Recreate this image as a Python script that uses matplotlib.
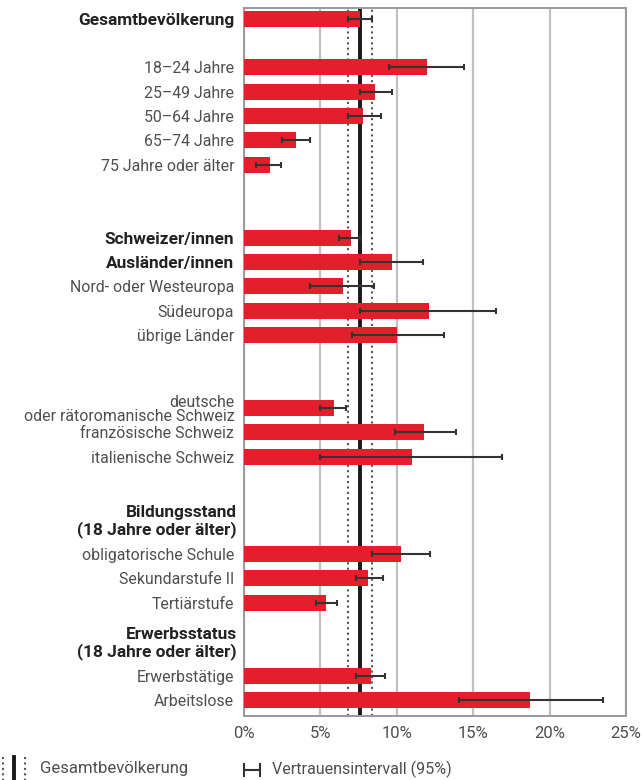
import matplotlib.pyplot as plt
from matplotlib.lines import Line2D
from matplotlib.ticker import FuncFormatter

plt.rcParams['font.family'] = ['Roboto', 'DejaVu Sans']

# groups of rows, top to bottom
labels = [
    "Gesamtbevölkerung",
    "18–24 Jahre", "25–49 Jahre", "50–64 Jahre", "65–74 Jahre", "75 Jahre oder älter",
    "Schweizer/innen", "Ausländer/innen", "Nord- oder Westeuropa", "Südeuropa", "übrige Länder",
    "deutsche\noder rätoromanische Schweiz", "französische Schweiz", "italienische Schweiz",
    "obligatorische Schule", "Sekundarstufe II", "Tertiärstufe",
    "Erwerbstätige", "Arbeitslose",
]
bold_labels = ["Gesamtbevölkerung", "Schweizer/innen", "Ausländer/innen"]
group_sizes = [1, 5, 5, 3, 3, 2]
headers = {4: "Bildungsstand\n(18 Jahre oder älter)", 5: "Erwerbsstatus\n(18 Jahre oder älter)"}

values = [7.6, 12.0, 8.6, 7.8, 3.4, 1.7,
          7.0, 9.7, 6.5, 12.1, 10.0,
          5.9, 11.8, 11.0,
          10.3, 8.1, 5.4,
          8.3, 18.7]
ci_low = [6.8, 9.5, 7.6, 6.8, 2.5, 0.8,
          6.2, 7.6, 4.3, 7.6, 7.1,
          5.0, 9.9, 5.0,
          8.4, 7.3, 4.7,
          7.3, 14.1]
ci_high = [8.4, 14.4, 9.7, 9.0, 4.3, 2.4,
           7.6, 11.7, 8.5, 16.5, 13.1,
           6.7, 13.9, 16.9,
           12.2, 9.1, 6.1,
           9.2, 23.5]

total = 7.6
total_low = 6.8
total_high = 8.4

xticks = [0, 5, 10, 15, 20, 25]

# row positions with empty rows between groups
gaps = [0, 1, 2, 2, 3, 2]
rows = []
group_start = []
pos = 0
for g, size in enumerate(group_sizes):
    pos += gaps[g]
    group_start.append(pos)
    for i in range(size):
        rows.append(pos)
        pos += 1

red = '#e41e2b'
txt = '#4e4e4e'
dark = '#222222'

fig = plt.figure(figsize=(6.42, 7.8), dpi=100)
ax = fig.add_axes([0.380, 0.082, 0.595, 0.908])

ax.barh(rows, values, height=0.66, color=red, zorder=3)
err = [[v - l for v, l in zip(values, ci_low)], [h - v for v, h in zip(values, ci_high)]]
ax.errorbar(values, rows, xerr=err, fmt='none', ecolor='#333333', elinewidth=1.5,
            capsize=2.5, capthick=1.5, zorder=4)

ax.axvline(total, color='#1a1a1a', lw=2.8, zorder=2)
ax.axvline(total_low, color='#555555', lw=1.5, ls=(0, (1, 1.6)), zorder=2)
ax.axvline(total_high, color='#555555', lw=1.5, ls=(0, (1, 1.6)), zorder=2)

ax.set_xlim(0, 25)
ax.set_ylim(28.66, -0.45)
ax.set_xticks(xticks)
ax.xaxis.set_major_formatter(FuncFormatter(lambda v, p: f"{v:.0f}%"))
ax.grid(axis='x', color='#c0c0c0', lw=1.6, zorder=0)
ax.set_axisbelow(True)

for s in ax.spines.values():
    s.set_color('#999999')
    s.set_linewidth(1.4)

ax.set_yticks(rows)
ax.set_yticklabels(labels)
ax.tick_params(axis='y', length=0, pad=7)
ax.tick_params(axis='x', length=0, pad=7, labelsize=12, labelcolor=txt)
for t in ax.get_yticklabels():
    if t.get_text() in bold_labels:
        t.set_fontsize(12.4)
        t.set_fontweight('bold')
        t.set_color(dark)
    else:
        t.set_fontsize(11.4)
        t.set_color(txt)
        t.set_linespacing(0.95)

# group headers in the empty rows
for g, h in headers.items():
    ax.text(-0.018, group_start[g] - 1.33, h, transform=ax.get_yaxis_transform(),
            ha='right', va='center', fontsize=12.4, fontweight='bold', color=dark,
            linespacing=1.1)


# legend below the chart, placed in pixel units
def fx(px):
    return px / 642


def fy(py):
    return 1 - py / 780


fig.add_artist(Line2D([fx(3), fx(3)], [fy(757), fy(780)], color='#555555', lw=1.5,
                      ls=(0, (1, 1.6)), transform=fig.transFigure))
fig.add_artist(Line2D([fx(14), fx(14)], [fy(757), fy(780)], color='#1a1a1a', lw=2.8,
                      transform=fig.transFigure))
fig.add_artist(Line2D([fx(25), fx(25)], [fy(757), fy(780)], color='#555555', lw=1.5,
                      ls=(0, (1, 1.6)), transform=fig.transFigure))
fig.text(fx(40), fy(769), "Gesamtbevölkerung", ha='left', va='center', fontsize=12,
         color=txt)

fig.add_artist(Line2D([fx(244), fx(260)], [fy(770), fy(770)], color='#333333', lw=1.5,
                      transform=fig.transFigure))
for xx in (244, 260):
    fig.add_artist(Line2D([fx(xx), fx(xx)], [fy(764), fy(776)], color='#333333', lw=1.5,
                          transform=fig.transFigure))
fig.text(fx(272), fy(769), "Vertrauensintervall (95%)", ha='left', va='center', fontsize=11.6,
         color=txt)

fig.savefig('out.png', dpi=100)
